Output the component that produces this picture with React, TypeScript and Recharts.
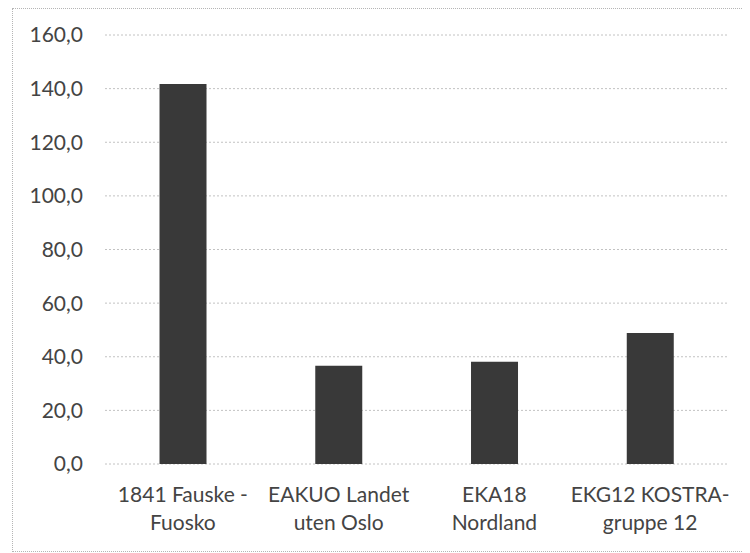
import React from "react";
import { BarChart, Bar, XAxis, YAxis, CartesianGrid } from "recharts";

// Regions compared
const categories = [
  "1841 Fauske - Fuosko",
  "EAKUO Landet uten Oslo",
  "EKA18 Nordland",
  "EKG12 KOSTRA-gruppe 12",
];
// Two-line tick labels, as wrapped under each bar
const tickLines: string[][] = [
  ["1841 Fauske -", "Fuosko"],
  ["EAKUO Landet", "uten Oslo"],
  ["EKA18", "Nordland"],
  ["EKG12 KOSTRA-", "gruppe 12"],
];
const values = [141.7, 36.6, 38.1, 48.9];
const yTicks = [0, 20, 40, 60, 80, 100, 120, 140, 160];

const data = categories.map((name, i) => ({ name, value: values[i], idx: i }));

const FONT = "Lato, 'DejaVu Sans', sans-serif";
const TEXT = "#444444";

const fmt = (v: number) => v.toFixed(1).replace(".", ",");

const XTick = (props: any) => {
  const { x, y, index } = props;
  const lines = tickLines[index] || [];
  return (
    <g transform={`translate(${x},${y})`}>
      {lines.map((t, i) => (
        <text
          key={i}
          x={0}
          y={30 + i * 28}
          textAnchor="middle"
          fill={TEXT}
          fontFamily={FONT}
          fontSize={21}
        >
          {t}
        </text>
      ))}
    </g>
  );
};

export default function App() {
  return (
    <div style={{ position: "relative", width: 742, height: 545 }}>
      <div
        style={{
          position: "absolute",
          left: 4,
          top: 0,
          width: 738,
          height: 544,
          borderTop: "1px dotted #b5b5b5",
          borderLeft: "1px dotted #b5b5b5",
          borderBottom: "1px dotted #b5b5b5",
          boxSizing: "border-box",
        }}
      />
      <BarChart
        width={742}
        height={545}
        data={data}
        margin={{ top: 27, right: 22, left: 0, bottom: 0 }}
        barCategoryGap="35%"
        style={{ position: "absolute", left: 0, top: 0 }}
      >
        <CartesianGrid
          vertical={false}
          stroke="#c2c2c2"
          strokeDasharray="2 2"
        />
        <XAxis
          dataKey="name"
          axisLine={false}
          tickLine={false}
          height={89}
          interval={0}
          tick={<XTick />}
        />
        <YAxis
          width={97}
          domain={[0, 160]}
          ticks={yTicks}
          axisLine={false}
          tickLine={false}
          tickSize={0}
          tickMargin={22}
          tickFormatter={fmt}
          tick={{ fill: TEXT, fontFamily: FONT, fontSize: 21 }}
        />
        <Bar dataKey="value" fill="#393939" isAnimationActive={false} />
      </BarChart>
    </div>
  );
}
